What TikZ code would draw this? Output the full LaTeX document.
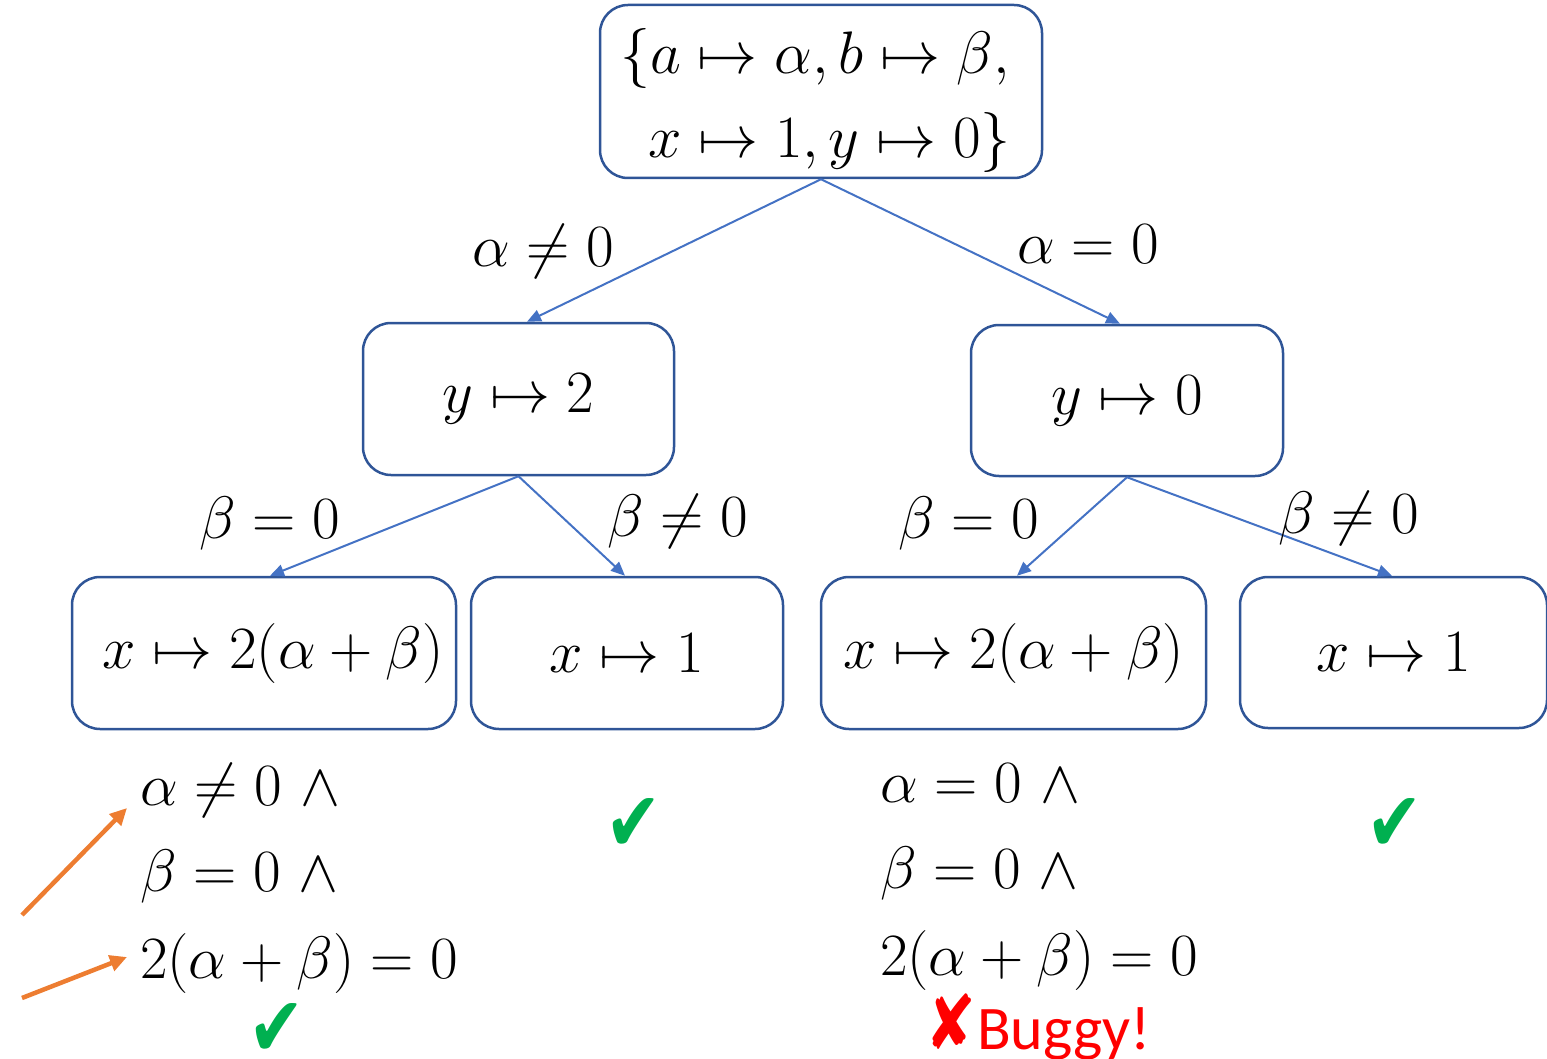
\RequirePackage{fix-cm}
\documentclass[tikz,border=0pt]{standalone}
\usepackage{fontspec}
\usetikzlibrary{arrows.meta}
\newfontfamily\dejavu{DejaVu Sans}
\newfontfamily\carlito{Carlito}
\definecolor{boxblue}{RGB}{47,85,151}
\definecolor{edgeblue}{RGB}{68,114,196}
\definecolor{arrorange}{RGB}{237,125,49}
\definecolor{okgreen}{RGB}{0,176,80}
\definecolor{bugred}{RGB}{255,0,0}
\tikzset{
  box/.style={draw=boxblue, line width=2.5pt, rounded corners=28pt, inner sep=0pt},
  edge/.style={draw=edgeblue, line width=2pt, -{Triangle[length=14pt,width=12pt]}},
  oarrow/.style={draw=arrorange, line width=4.5pt, -{Triangle[length=17pt,width=16pt]}},
  lbl/.style={inner sep=0pt, anchor=base west},
  chk/.style={inner sep=0pt, text=okgreen, font=\fontsize{84}{84}\dejavu},
}
\newcommand{\okmark}{\scalebox{0.8}[1]{✔}}
\begin{document}
\begin{tikzpicture}[x=1pt,y=-1pt,font=\fontsize{60}{68}\selectfont]
\useasboundingbox (0,0) rectangle (1547,1059);
% boxes
\node[box, minimum width=442pt, minimum height=173pt, align=left] (top) at (821,91.5)
  {\rule{0pt}{64pt}$\{a\mapsto\alpha, b\mapsto\beta,$\hspace*{12pt}\\[16pt]\hspace*{28pt}$x\mapsto 1, y\mapsto 0\}$};
\node[box, minimum width=311pt, minimum height=152pt] (y2) at (518.5,399) {$y\mapsto 2$};
\node[box, minimum width=312pt, minimum height=151pt] (y0) at (1127,400.5) {$y\mapsto 0$};
\node[box, minimum width=384pt, minimum height=152pt] (xa) at (264,653) {\hspace*{18pt}$x\mapsto 2(\alpha+\beta)$};
\node[box, minimum width=312pt, minimum height=152pt] (xb) at (627,653) {$x\mapsto 1$};
\node[box, minimum width=385pt, minimum height=152pt] (xc) at (1013.5,653) {$x\mapsto 2(\alpha+\beta)$};
\node[box, minimum width=307pt, minimum height=151pt] (xd) at (1393.5,652.5) {$x\mapsto 1$};
% edges
\draw[edge] (top.south) -- ([xshift=8.5pt]y2.north);
\draw[edge] (top.south) -- ([xshift=-7pt]y0.north);
\draw[edge] (y2.south) -- ([xshift=6pt]xa.north);
\draw[edge] (y2.south) -- ([xshift=-2pt]xb.north);
\draw[edge] (y0.south) -- ([xshift=3.5pt]xc.north);
\draw[edge] (y0.south) -- ([xshift=-1.5pt]xd.north);
% edge labels
\node[lbl] (l1) at (472,267) {$\alpha\neq 0$};
\node[lbl] (l2) at (1017,264) {$\alpha = 0$};
\node[lbl] (l3) at (199,538) {$\beta = 0$};
\node[lbl] (l4) at (607,536) {$\beta \neq 0$};
\node[lbl] (l5) at (898,538) {$\beta = 0$};
\node[lbl] (l6) at (1278,533) {$\beta \neq 0$};
% conditions left
\node[lbl] (c1) at (140,805) {$\alpha\neq 0\ \wedge$};
\node[lbl] (c2) at (140,891) {$\beta = 0\ \wedge$};
\node[lbl] (c3) at (140,978) {$2(\alpha+\beta) = 0$};
% conditions right
\node[lbl] (d1) at (880,802) {$\alpha = 0\ \wedge$};
\node[lbl] (d2) at (880,888) {$\beta = 0\ \wedge$};
\node[lbl] (d3) at (880,975) {$2(\alpha+\beta) = 0$};
% checks
\node[chk] (k1) at (634,825) {\okmark};
\node[chk] (k2) at (1395,825) {\okmark};
\node[chk] (k3) at (277,1030) {\okmark};
\node[inner sep=0pt, text=bugred, anchor=west] (bug) at (925,1027)
  {{\fontsize{58}{58}\dejavu\scalebox{1.05}[1.3]{✘}}\hspace{1pt}{\fontsize{62}{62}\carlito Buggy!}};
% orange arrows
\coordinate (o1s) at (22,915);
\coordinate (o1e) at (127,808);
\coordinate (o2s) at (22,998);
\coordinate (o2e) at (127,957);
\draw[oarrow] (o1s) -- (o1e);
\draw[oarrow] (o2s) -- (o2e);
\end{tikzpicture}
\end{document}
